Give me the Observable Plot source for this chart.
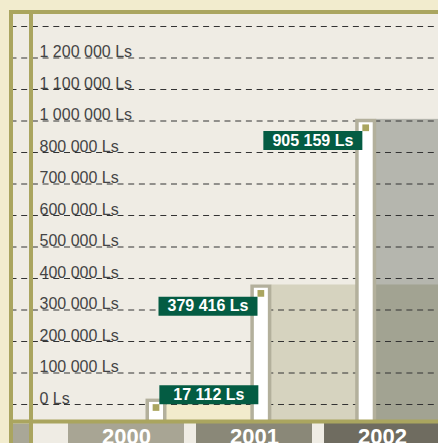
<!DOCTYPE html>
<html><head><meta charset="utf-8">
<script src="https://cdn.jsdelivr.net/npm/d3@7"></script>
<script src="https://cdn.jsdelivr.net/npm/@observablehq/plot@0.6"></script>
<style>
html,body{margin:0;padding:0;background:#f2ecce;}
#chart{position:relative;width:438px;height:443px;overflow:hidden;background:#f2ecce;}
</style></head><body><div id="chart"></div>
<script>
// ---- data ----
const years = [2000, 2001, 2002];
const values = [17112, 379416, 905159];
const gridValues = [0, 100000, 200000, 300000, 400000, 500000, 600000, 700000, 800000, 900000, 1000000, 1100000, 1200000];
const tickLabels = ["0 Ls", "100 000 Ls", "200 000 Ls", "300 000 Ls", "400 000 Ls", "500 000 Ls", "600 000 Ls", "700 000 Ls", "800 000 Ls", "1 000 000 Ls", "1 100 000 Ls", "1 200 000 Ls", ""];

// ---- styles ----
const olive = "#aaa55f";
const green = "#045c43";
const fillColors = ["#f2ebcc", "#d6d3bf", "rgba(8,20,12,0.25)"];
const bandColors = ["#a8a594", "#8a8878", "#6f6c60"];
const font = "'Liberation Sans', Arial, Helvetica, sans-serif";
const W = 438, H = 443;
const yDomain = [0, 1200000], yRange = [404, 26];
const xDomain = [2000, 2002], xRange = [155.5, 365.2];
const frameBottom = 421;

const ys = d3.scaleLinear(yDomain, yRange);
const xs = d3.scaleLinear(xDomain, xRange);
const yBase = ys.invert(frameBottom);
const yBaseInner = ys.invert(frameBottom - 3.3);
const xEnd = xs.invert(W + 5);
const fmt = v => d3.format(",")(v).replace(/,/g, " ") + " Ls";
const data = years.map((year, i) => ({year, value: values[i], i}));
const flipped = d => ys(d.value) + 11.75 + 19 > frameBottom;

const BW = 99, BH = 19;
const squareSym = {draw(ctx) { ctx.rect(-3.35, -3.35, 6.7, 6.7); }};
const boxBelowLeft = {draw(ctx) { ctx.rect(-BW, 0, BW, BH); }};
const boxAboveRight = {draw(ctx) { ctx.rect(0, -BH, BW, BH); }};

const svgStyle = {background: "transparent", position: "absolute", left: "0px", top: "0px", fontFamily: font, overflow: "hidden"};

// ---- bottom layer: interior + year bands ----
const bands = Plot.plot({
  width: W, height: H,
  marginTop: 423, marginBottom: 0, marginLeft: 0, marginRight: 0,
  x: {type: "band", domain: years, range: [68, 440], paddingInner: 0.094, paddingOuter: 0, round: false, axis: null},
  style: svgStyle,
  marks: [
    Plot.frame({fill: "#efece4", stroke: "none", insetLeft: 8.5, insetTop: -413.5}),
    Plot.frame({fill: "#a9a797", stroke: "none", insetLeft: 12.5, insetRight: 409.5}),
    Plot.cell(years, {x: d => d, fill: (d, i) => bandColors[i], inset: 0}),
    Plot.text(years, {x: d => d, text: d => String(d), fill: "white", fontWeight: "bold", fontSize: 22, fontFamily: font, frameAnchor: "middle", dy: 3.8})
  ]
});

// ---- main layer ----
const main = Plot.plot({
  width: W, height: H,
  marginLeft: 10.5, marginTop: 11.5, marginRight: 0, marginBottom: H - frameBottom,
  x: {type: "linear", domain: xDomain, range: xRange, axis: null},
  y: {type: "linear", domain: yDomain, range: yRange, axis: null},
  style: svgStyle,
  marks: [
    Plot.rect(data, {x1: "year", x2: () => xEnd, y1: () => yBase, y2: "value", insetLeft: 10.5, fill: d => fillColors[d.i]}),
    Plot.ruleY(gridValues, {y: d => d, stroke: "#333", strokeWidth: 1, strokeDasharray: "6,4.7"}),
    Plot.text(gridValues, {y: d => d, text: (d, i) => tickLabels[i], frameAnchor: "left", textAnchor: "start", lineAnchor: "bottom", dx: 28.5, dy: -1, fill: "#444", fontSize: 16, fontFamily: font}),
    Plot.ruleX(data, {x: "year", y1: () => yBase, y2: "value", stroke: "#b3b09c", strokeWidth: 21}),
    Plot.ruleX(data, {x: "year", y1: () => yBaseInner, y2: "value", stroke: "white", strokeWidth: 14, dy: 3.3}),
    Plot.frame({stroke: olive, strokeWidth: 4, fill: "none", insetRight: -10}),
    Plot.frame({stroke: olive, strokeWidth: 4, fill: "none", insetLeft: 20, insetRight: -10, insetBottom: -40}),
    Plot.frame({stroke: olive, strokeWidth: 4, fill: "none", insetRight: -10, insetBottom: -40}),
    Plot.dot(data, {x: "year", y: "value", symbol: squareSym, fill: olive, stroke: "none", dy: 8.4}),
    Plot.dot(data, {filter: d => !flipped(d), x: "year", y: "value", symbol: boxBelowLeft, fill: green, stroke: "none", dx: -3.35, dy: 11.75}),
    Plot.dot(data, {filter: d => flipped(d), x: "year", y: "value", symbol: boxAboveRight, fill: green, stroke: "none", dx: 3.35, dy: 5.05}),
    Plot.text(data, {filter: d => !flipped(d), x: "year", y: "value", text: d => fmt(d.value), fill: "white", fontWeight: "bold", fontSize: 16, fontFamily: font, dx: -3.35 - BW / 2, dy: 11.75 + BH / 2}),
    Plot.text(data, {filter: d => flipped(d), x: "year", y: "value", text: d => fmt(d.value), fill: "white", fontWeight: "bold", fontSize: 16, fontFamily: font, dx: 3.35 + BW / 2, dy: 5.05 - BH / 2})
  ]
});

const chart = document.getElementById("chart");
chart.appendChild(bands);
chart.appendChild(main);
</script>
</body></html>
